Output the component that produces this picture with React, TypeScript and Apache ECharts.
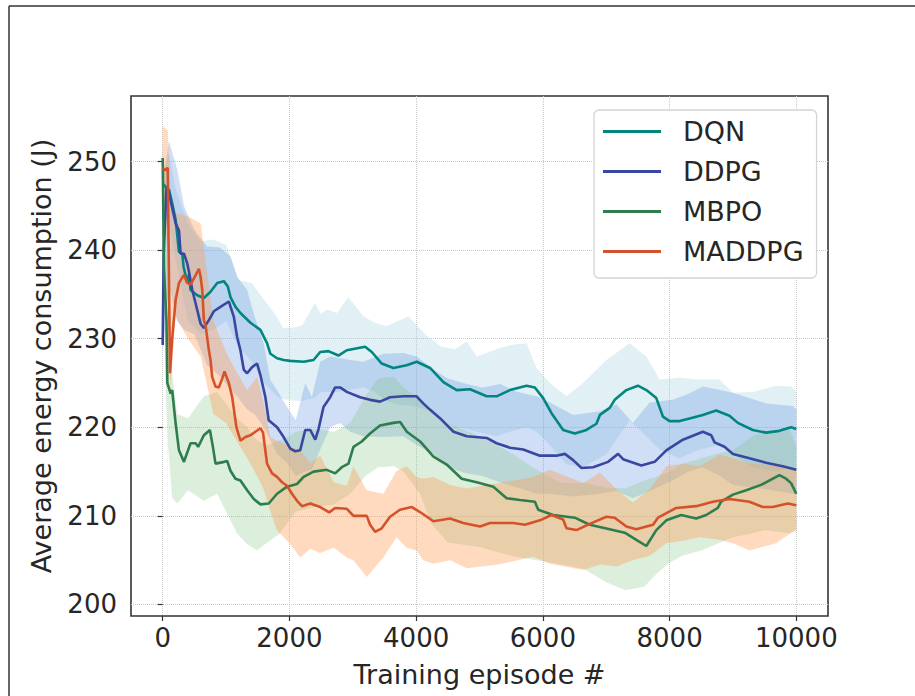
import React, { useEffect, useRef } from "react";
import * as echarts from "echarts";

// ---------- data ----------
const seriesNames = ["DQN", "DDPG", "MBPO", "MADDPG"];
const xTicks = [0, 2000, 4000, 6000, 8000, 10000];
const yTicks = [200, 210, 220, 230, 240, 250];

// mean curves
const dqnEp = [0,100,150,205,257,310,330,388,414,440,545,650,755,860,965,1028,1070,1149,1227,1385,1542,1647,1700,1805,1910,2014,2224,2381,2486,2615,2774,2906,3194,3300,3457,3640,3850,4010,4220,4430,4640,4850,5113,5270,5480,5743,5874,6005,6137,6320,6504,6688,6845,6900,7055,7134,7318,7500,7633,7790,7895,8000,8158,8315,8525,8735,8945,9077,9313,9523,9733,9917,10000];
const dqnMean = [247.5,246.8,245.3,243.4,239.8,239.6,238.1,236.3,237.3,235.5,234.9,234.6,235.3,236.3,236.5,235.9,234.7,233.6,232.9,231.8,231.0,229.5,228.3,227.8,227.6,227.5,227.4,227.6,228.5,228.6,228.1,228.7,229.1,228.5,227.2,226.7,227.0,227.4,226.7,225.1,224.2,224.3,223.5,223.5,224.2,224.7,224.5,223.3,221.6,219.7,219.3,219.7,220.4,221.4,222.2,223.1,224.2,224.7,224.2,223.3,221.2,220.7,220.7,221.0,221.4,221.9,221.3,220.5,219.7,219.4,219.6,220.0,219.8];

const ddpgEp = [0,15,60,100,205,257,283,336,388,414,467,519,598,650,729,807,912,1044,1122,1175,1227,1280,1333,1411,1490,1542,1621,1673,1805,1909,2014,2093,2170,2250,2330,2408,2460,2538,2643,2722,2800,2906,3116,3273,3430,3588,3800,4007,4112,4217,4380,4590,4800,5113,5270,5480,5690,5953,6215,6347,6478,6610,6793,7030,7187,7266,7554,7764,7948,8210,8525,8657,8710,8866,9000,9260,9523,9785,10000];
const ddpgMean = [229.3,239.4,247.0,246.4,243.0,242.2,239.6,239.6,238.5,237.6,235.5,234.0,231.7,231.2,232.1,233.1,233.6,234.2,232.5,230.2,228.7,226.5,226.1,226.8,227.2,225.9,223.4,220.8,220.0,218.9,217.6,217.3,217.4,219.7,219.7,218.6,219.8,222.3,223.4,224.5,224.5,224.0,223.4,223.1,222.9,223.4,223.5,223.5,222.7,222.0,221.0,219.5,219.0,218.8,218.2,217.7,217.5,216.8,216.8,217.0,216.3,215.4,215.5,216.1,217.0,216.4,215.7,216.1,217.4,218.6,219.5,219.1,218.3,217.8,217.0,216.5,216.0,215.6,215.2];

const mbpoEp = [0,20,60,74,126,150,205,257,336,360,440,520,560,650,745,790,834,970,1018,1070,1149,1227,1333,1438,1543,1674,1805,1962,2120,2224,2381,2591,2722,2827,2932,3011,3142,3273,3430,3640,3748,3853,4063,4273,4483,4719,4955,5218,5428,5638,5874,5927,6163,6504,6740,7055,7292,7475,7633,7790,7948,8184,8420,8578,8761,8814,9000,9210,9444,9733,9838,9917,10000];
const mbpoMean = [250.4,238.0,232.0,225.0,223.8,224.2,220.4,217.4,216.1,216.6,218.2,218.2,217.8,219.1,219.7,217.9,215.9,216.1,216.2,215.1,214.2,214.0,212.9,211.9,211.3,211.4,212.5,213.3,213.6,214.4,215.0,215.2,214.8,215.5,215.9,217.8,218.4,219.3,220.2,220.5,220.6,219.5,218.4,216.7,215.8,214.2,213.8,213.3,212.0,211.8,211.6,210.7,210.1,209.8,209.0,208.5,208.1,207.3,206.6,208.4,209.5,210.1,209.7,210.1,210.9,211.6,212.4,212.9,213.5,214.6,214.2,213.7,212.5];

const maddpgEp = [0,40,80,115,150,205,257,336,388,440,493,572,598,625,650,677,729,755,781,834,886,939,976,1044,1097,1164,1227,1306,1385,1463,1542,1584,1647,1726,1805,1884,1962,2040,2120,2198,2329,2486,2628,2722,2906,3011,3221,3273,3352,3457,3588,3745,3932,4090,4273,4535,4745,5008,5165,5533,5717,5953,6137,6320,6373,6530,6740,7003,7134,7318,7475,7738,7817,8105,8420,8683,8945,9260,9470,9628,9864,10000];
const maddpgMean = [249.3,249.0,249.3,226.1,230.0,234.4,236.3,237.2,236.3,236.1,236.8,237.9,237.0,235.5,232.1,231.5,228.7,227.6,225.7,224.6,224.5,225.5,226.3,225.0,223.4,220.0,218.5,218.9,219.1,219.5,219.9,219.4,215.9,214.8,214.4,213.8,213.4,212.5,211.7,211.1,211.4,211.0,210.4,210.9,210.8,210.0,210.0,209.0,208.2,208.6,209.9,210.7,211.0,210.3,209.4,209.7,209.2,208.8,209.2,209.2,209.0,209.5,210.1,209.6,208.6,208.4,209.1,209.9,209.8,208.8,208.5,209.0,209.8,210.9,211.1,211.6,211.9,211.6,211.0,211.0,211.4,211.2];

// shaded bands (lower / upper)
const dqnBandEp = [0,100,200,400,600,800,1000,1200,1400,1600,1800,1900,2100,2200,2400,2500,2600,2750,2930,3170,3350,3530,3750,3880,4170,4400,4610,4800,4955,5270,5480,5743,5900,6110,6373,6635,7003,7370,7633,7843,8158,8473,8788,9000,9313,9680,9917,10000];
const dqnLow = [244,243,239,232,230.5,231,232,229,227.5,225,223.5,223.2,223.0,223.0,223.3,224.0,224.0,224.0,224.2,224.5,224.0,223.0,222.5,222.5,222.0,221.0,220.0,219.8,219.5,219.0,219.5,220.0,219.5,218.0,215.8,215.5,217.0,220.8,219.0,217.5,216.5,217.5,218.0,217.0,215.5,215.0,215.5,215.5];
const dqnHigh = [248,251,247,243,241,241.2,240.6,236.6,236.3,234.4,232.5,231.2,231.3,231.5,234.0,232.8,233.3,232.9,234.7,232.5,231.8,231.4,232.1,232.5,230.3,229.1,228.8,229.7,228.0,228.8,229.3,229.5,226.7,225.0,223.5,225.0,227.6,229.5,228.0,225.4,225.6,225.4,225.4,223.9,224.0,224.7,224.6,224.0];

const ddpgBandEp = [0,100,230,340,500,700,900,1070,1175,1333,1450,1594,1700,1805,1962,2100,2250,2355,2486,2643,2800,2957,3168,3483,3797,4010,4273,4500,4800,5050,5323,5600,5900,6110,6478,6900,7160,7420,7686,8050,8300,8525,8800,9000,9523,9943,10000];
const ddpgLow = [228.5,236,232,231,230.5,227.0,225.8,224.2,223.5,222.0,221.5,220.0,218.5,217.0,216.0,214.5,215.0,215.2,217.5,220.0,220.5,219.5,219.0,218.9,219.0,218.0,217.0,215.5,214.8,214.5,213.8,213.2,212.5,212.5,212.2,212.5,212.8,212.0,212.8,214.0,215.0,215.5,214.5,213.5,213.0,212.5,212.5];
const ddpgHigh = [248,252.3,249.1,244.9,242.3,240.4,240.3,239.3,237.0,235.5,232.5,229.5,225.3,224.2,222.3,220.8,225.0,223.4,227.4,228.0,227.8,227.6,227.4,228.3,228.4,228.0,226.5,225.5,224.9,224.5,224.9,224.0,223.5,222.8,221.4,221.8,222.6,220.5,222.8,223.1,223.8,224.6,224.2,223.9,222.7,222.4,222.0];

const mbpoBandEp = [0,40,75,150,230,400,650,860,1070,1175,1333,1490,1650,1850,2000,2100,2400,2700,2960,3200,3400,3650,3800,4060,4250,4500,5000,5500,5900,6300,6650,7000,7300,7600,7800,8000,8200,8500,8800,9000,9300,9500,9900,10000];
const mbpoLow = [248,226,219,212,211.4,212.9,211.7,212.5,209.5,208.0,206.8,206.1,207.0,208.0,209.5,210.5,211.0,211.3,212.5,214.5,215.5,215.6,215.0,212.5,209.0,207.0,206.5,205.5,205.0,204.5,204.0,202.5,201.6,202.0,203.5,204.7,205.5,206.1,207.0,207.6,208.0,208.4,208.0,208.5];
const mbpoHigh = [252,244,238,226,221.5,221,223.5,224,222,221,220,218.5,218.0,218.5,219.0,219.5,219.8,219.5,220.5,223.5,225.5,225.7,224.5,223.1,222.0,220.5,219.0,217.1,215.2,213.7,213.7,213.2,213.1,214.0,214.4,215.0,215.9,216.5,217.1,217.4,219.0,219.5,219.7,217.8];

const maddpgBandEp = [0,80,120,200,400,600,800,1000,1122,1330,1490,1594,1700,1800,2014,2171,2330,2486,2700,2906,3011,3220,3483,3692,3850,4007,4112,4273,4535,4800,5300,5850,6110,6640,6900,7160,7420,7690,7950,8210,8470,8790,9000,9260,9680,9943,10000];
const maddpgLow = [245,240,224,232.5,230,228,221.5,220.5,219.0,216.6,214.5,213.0,210.5,208.4,206.8,205.3,206.3,205.8,206.4,205.3,205.0,203.1,205.3,207.6,206.4,206.1,205.0,204.6,205.0,204.1,204.5,205.4,204.6,203.9,204.5,204.3,205.0,205.5,206.9,207.2,207.6,207.3,206.9,206.1,206.9,208.2,208.2];
const maddpgHigh = [254,253.5,247,244.2,243.8,243,232,228.5,226.8,224.2,225.7,222.7,218.9,218.5,217.8,217.4,216.0,216.8,213.8,213.4,215.6,212.9,212.5,215.1,215.6,214.4,214.2,214.4,213.5,213.1,213.7,214.4,215.2,213.7,214.9,213.0,211.5,213.0,215.6,215.9,215.6,216.9,216.5,215.9,215.7,215.5,215.3];

// ---------- styles ----------
const FONT = "DejaVu Sans";
const TEXT = "#262626";
const lineColors = ["#00867e", "#3a47a0", "#2e7d4e", "#d4522a"];
const bandFills = [
  "rgba(160,208,224,0.32)",
  "rgba(100,145,225,0.30)",
  "rgba(130,195,130,0.28)",
  "rgba(255,158,88,0.38)",
];

function bandSeries(name: string, ep: number[], lo: number[], hi: number[], fill: string) {
  return {
    type: "custom",
    name: name + " band",
    silent: true,
    clip: true,
    z: 1,
    data: ep.map((e, i) => [e, lo[i], hi[i]]),
    encode: { x: 0, y: [1, 2] },
    renderItem: (params: any, api: any) => {
      if (params.dataIndex !== 0) return null;
      const top = ep.map((e, i) => api.coord([e, hi[i]]));
      const bottom = ep.map((e, i) => api.coord([e, lo[i]])).reverse();
      return {
        type: "polygon",
        shape: { points: top.concat(bottom) },
        style: { fill, stroke: null },
      };
    },
  };
}

function lineSeries(name: string, ep: number[], vals: number[], color: string) {
  return {
    type: "line",
    name,
    data: ep.map((e, i) => [e, vals[i]]),
    showSymbol: false,
    symbol: "none",
    color,
    z: 3,
    lineStyle: { color, width: 2.6 },
  };
}

export default function App() {
  const ref = useRef<HTMLDivElement>(null);
  useEffect(() => {
    if (!ref.current) return;
    const chart = echarts.init(ref.current, undefined, { renderer: "svg" });
    const option: any = {
      animation: false,
      backgroundColor: "#ffffff",
      grid: {
        left: 131,
        top: 96,
        width: 697,
        height: 520,
        show: true,
        borderColor: "#333333",
        borderWidth: 1.6,
        backgroundColor: "transparent",
        containLabel: false,
        outerBoundsMode: "none",
      },
      xAxis: {
        type: "value",
        min: -500,
        max: 10500,
        axisLine: { show: false },
        axisTick: { show: true, inside: false, length: 5, lineStyle: { color: "#333", width: 1.2 }, customValues: xTicks },
        axisLabel: {
          customValues: xTicks,
          formatter: (v: number) => String(v),
          fontSize: 26,
          color: TEXT,
          fontFamily: FONT,
          margin: 9,
        },
        splitLine: { show: true, lineStyle: { color: "#c8c8c8", type: "dotted", width: 1 } },
        name: "Training episode #",
        nameLocation: "middle",
        nameGap: 45,
        nameTextStyle: { fontSize: 27, color: TEXT, fontFamily: FONT },
      },
      yAxis: {
        type: "value",
        min: 198.7,
        max: 257.4,
        axisLine: { show: false },
        axisTick: { show: true, inside: false, length: 5, lineStyle: { color: "#333", width: 1.2 }, customValues: yTicks },
        axisLabel: {
          customValues: yTicks,
          formatter: (v: number) => String(v),
          fontSize: 26,
          color: TEXT,
          fontFamily: FONT,
          margin: 14,
        },
        splitLine: { show: true, lineStyle: { color: "#c8c8c8", type: "dotted", width: 1 } },
        name: "Average energy consumption (J)",
        nameLocation: "middle",
        nameGap: 76,
        nameTextStyle: { fontSize: 27, color: TEXT, fontFamily: FONT },
      },
      legend: {
        show: true,
        data: seriesNames,
        orient: "vertical",
        left: 594,
        top: 110,
        icon: "rect",
        itemWidth: 58,
        itemHeight: 3,
        itemGap: 13,
        padding: [8, 13, 13, 9],
        backgroundColor: "#ffffff",
        borderColor: "#d4d4d4",
        borderWidth: 1.3,
        borderRadius: 5,
        textStyle: { fontSize: 27, color: TEXT, fontFamily: FONT, lineHeight: 27, padding: [0, 0, 0, 17] },
      },
      graphic: [
        { type: "line", shape: { x1: 9, y1: 6, x2: 915, y2: 6 }, style: { stroke: "#333", lineWidth: 1.5 } },
        { type: "line", shape: { x1: 9, y1: 6, x2: 9, y2: 696 }, style: { stroke: "#333", lineWidth: 1.5 } },
      ],
      series: [
        bandSeries("DQN", dqnBandEp, dqnLow, dqnHigh, bandFills[0]),
        bandSeries("DDPG", ddpgBandEp, ddpgLow, ddpgHigh, bandFills[1]),
        bandSeries("MBPO", mbpoBandEp, mbpoLow, mbpoHigh, bandFills[2]),
        bandSeries("MADDPG", maddpgBandEp, maddpgLow, maddpgHigh, bandFills[3]),
        lineSeries("DQN", dqnEp, dqnMean, lineColors[0]),
        lineSeries("DDPG", ddpgEp, ddpgMean, lineColors[1]),
        lineSeries("MBPO", mbpoEp, mbpoMean, lineColors[2]),
        lineSeries("MADDPG", maddpgEp, maddpgMean, lineColors[3]),
      ],
    };
    chart.setOption(option);
    return () => chart.dispose();
  }, []);
  return (
    <div
      ref={ref}
      style={{ position: "fixed", left: 0, top: 0, width: 915, height: 696, background: "#fff" }}
    />
  );
}
